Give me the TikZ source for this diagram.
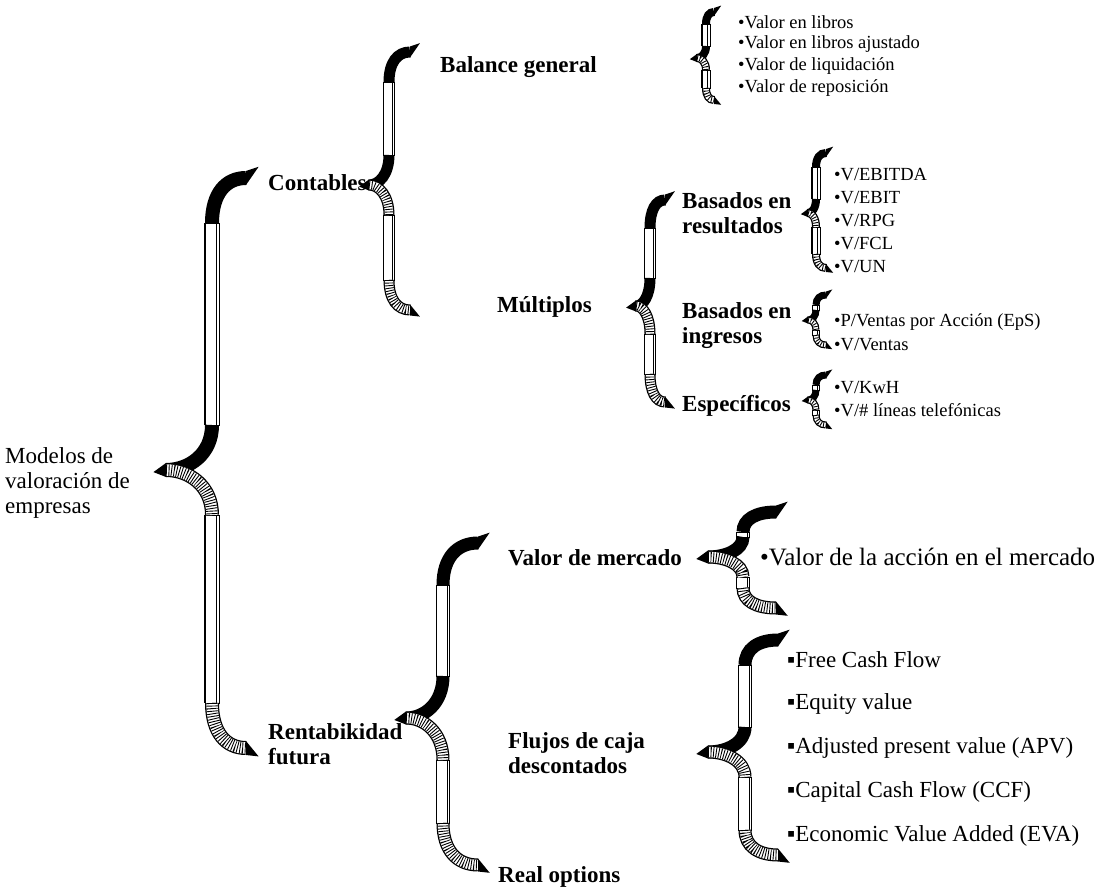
\documentclass[tikz,border=0pt]{standalone}
\usepackage{fontspec}
\setmainfont{Liberation Serif}
\newcommand\flapblack[2]{\draw[line width=#1pt,line cap=butt] #2;}
\newcommand\flaphatch[2]{%
  \pgfmathsetmacro\inw{#1-2.6}%
  \draw[line width=#1pt,line cap=butt] #2;
  \draw[line width=\inw pt,white,line cap=butt] #2;
  \draw[line width=\inw pt,line cap=butt,dash pattern=on 0.9pt off 1.7pt] #2;}
% #1 ribbon centre x, #2 top tip y, #3 mid tip y, #4 bottom tip y,
% #5 tip x (right), #6 mid tip x (left), #7 ribbon width, #8 curve height
\newcommand\fbrace[8]{%
  \pgfmathsetmacro\hw{#7/2}%
  \pgfmathsetmacro\ia{#1+\hw-2.4}%
  \draw[line width=0.9pt,fill=white] ({#1-\hw},{#2+#8}) rectangle ({#1+\hw},{#3-#8});
  \draw[line width=0.9pt,fill=white] ({#1-\hw},{#3+#8}) rectangle ({#1+\hw},{#4-#8});
  \draw[line width=1.8pt] ({#1-\hw},{#2+#8}) -- ({#1-\hw},{#3-#8}) ({#1-\hw},{#3+#8}) -- ({#1-\hw},{#4-#8});
  \draw[line width=0.5pt] (\ia,{#2+#8}) -- (\ia,{#3-#8}) (\ia,{#3+#8}) -- (\ia,{#4-#8});
  \flapblack{#7}{({#1},{#2+#8}) .. controls ({#1},{#2+0.35*#8}) and ({#1+0.4*(#5-#1)},{#2}) .. ({#5},{#2})}
  \flapblack{#7}{({#1},{#3-#8}) .. controls ({#1},{#3-0.35*#8}) and ({#6+0.5*(#1-#6)},{#3}) .. ({#6},{#3})}
  \flaphatch{#7}{({#6},{#3}) .. controls ({#6+0.5*(#1-#6)},{#3}) and ({#1},{#3+0.35*#8}) .. ({#1},{#3+#8})}
  \flaphatch{#7}{({#1},{#4-#8}) .. controls ({#1},{#4-0.35*#8}) and ({#1+0.4*(#5-#1)},{#4}) .. ({#5},{#4})}
  \fill ({#5},{#2-\hw}) -- ({#5+0.9*#7},{#2-\hw-0.3*#7}) -- ({#5},{#2+\hw}) -- cycle;
  \fill ({#6},{#3-\hw}) -- ({#6-0.9*#7},{#3+0.15*#7}) -- ({#6},{#3+\hw}) -- cycle;
  \fill ({#5},{#4-\hw}) -- ({#5+0.9*#7},{#4+\hw+0.1*#7}) -- ({#5},{#4+\hw}) -- cycle;
}
\begin{document}
\begin{tikzpicture}[x=1pt,y=-1pt,
  root/.style={font=\fontsize{23}{25}\selectfont,inner sep=0pt,anchor=west,align=left},
  cat/.style={font=\fontsize{23}{25}\selectfont\bfseries,inner sep=0pt,anchor=west,align=left},
  small/.style={font=\fontsize{18.5}{22}\selectfont,inner sep=0pt,anchor=west},
  big/.style={font=\fontsize{23}{26}\selectfont,inner sep=0pt,anchor=west}]
\useasboundingbox (0,0) rectangle (1103,890);
\fill[white] (0,0) rectangle (1103,890);

% braces
\fbrace{212}{178}{470}{748}{246}{166}{14}{45}
\fbrace{389}{52}{185}{310}{410}{369}{11}{30}
\fbrace{706}{12}{58}{100}{714}{697}{8}{12}
\fbrace{650}{200}{306}{402}{665}{636}{11}{28}
\fbrace{816}{153}{213}{268}{826}{808}{8}{14}
\fbrace{816}{295}{320}{345}{826}{808}{7}{10}
\fbrace{816}{375}{400}{425}{826}{808}{7}{10}
\fbrace{443}{543}{718}{865}{478}{406}{13}{42}
\fbrace{743}{512}{557}{608}{776}{708}{13}{20}
\fbrace{745}{640}{752}{855}{778}{708}{13}{25}

% labels
\node[root] (root) at (5,483) {Modelos de\\valoración de\\empresas};
\node[cat] (cont) at (268,183) {Contables};
\node[cat] (bal) at (440,67) {Balance general};
\node[cat] (mult) at (497,307) {Múltiplos};
\node[cat] (bres) at (682,213) {Basados en\\resultados};
\node[cat] (bing) at (682,326) {Basados en\\ingresos};
\node[cat] (espe) at (682,406) {Específicos};
\node[cat] (rent) at (268,744) {Rentabikidad\\futura};
\node[cat] (vmer) at (508,558) {Valor de mercado};
\node[cat] (fluj) at (508,753) {Flujos de caja\\descontados};
\node[cat] (real) at (498,877) {Real options};

% items
\node[small] (b1) at (738,22) {•Valor en libros};
\node[small] (b2) at (738,44) {•Valor en libros ajustado};
\node[small] (b3) at (738,66) {•Valor de liquidación};
\node[small] (b4) at (738,88) {•Valor de reposición};
\node[small] (r1) at (834,175) {•V/EBITDA};
\node[small] (r2) at (834,198) {•V/EBIT};
\node[small] (r3) at (834,221) {•V/RPG};
\node[small] (r4) at (834,244) {•V/FCL};
\node[small] (r5) at (834,267) {•V/UN};
\node[small] (i1) at (834,322) {•P/Ventas por Acción (EpS)};
\node[small] (i2) at (834,345) {•V/Ventas};
\node[small] (e1) at (834,388) {•V/KwH};
\node[small] (e2) at (834,410) {•V/\# líneas telefónicas};
\node[big,font=\fontsize{25}{28}\selectfont] (m1) at (760,557) {•Valor de la acción en el mercado};
\node[big] (f1) at (787,660) {▪Free Cash Flow};
\node[big] (f2) at (787,704) {▪Equity value};
\node[big] (f3) at (787,748) {▪Adjusted present value (APV)};
\node[big] (f4) at (787,792) {▪Capital Cash Flow (CCF)};
\node[big] (f5) at (787,836) {▪Economic Value Added (EVA)};
\end{tikzpicture}
\end{document}
